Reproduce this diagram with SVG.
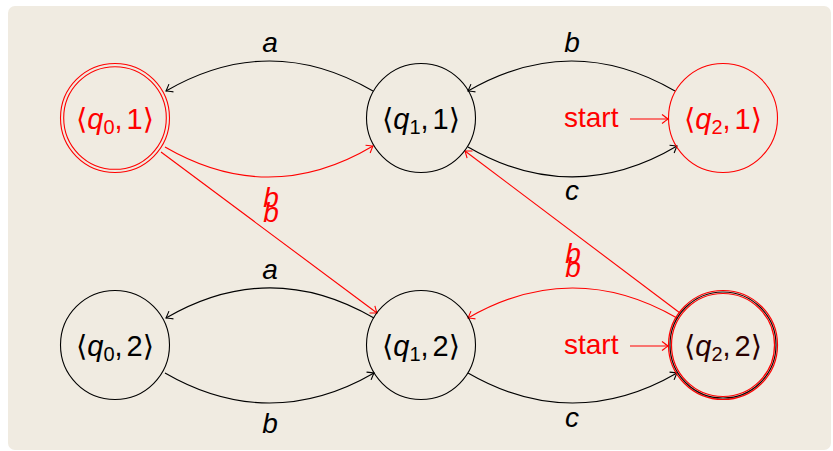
<svg xmlns="http://www.w3.org/2000/svg" width="833" height="451" viewBox="0 0 833 451">
<style>
.bg{fill:#f0ebe1}
.n{fill:none;stroke:#000;stroke-width:1.1}
.nr{fill:none;stroke:#ff0000;stroke-width:1.1}
.t{font-family:"Liberation Sans","DejaVu Sans",sans-serif;font-size:29px;text-anchor:middle}
.q{font-style:italic}
.sub{font-size:20px}
.lbl{font-family:"Liberation Sans","DejaVu Sans",sans-serif;font-size:28px;font-style:italic;text-anchor:middle}
.st{font-family:"Liberation Sans","DejaVu Sans",sans-serif;font-size:28px}
.e{fill:none;stroke:#000;stroke-width:1.1;marker-end:url(#ab)}
.er{fill:none;stroke:#ff0000;stroke-width:1.1;marker-end:url(#ar)}
.red{fill:#ff0000}
.blk{fill:#000}
</style>
<defs>
<marker id="ab" viewBox="-8 -6 10 12" markerWidth="10" markerHeight="12" refX="0" refY="0" orient="auto" markerUnits="userSpaceOnUse">
<path d="M-6,-4.5 Q-1.5,-1 0,0 Q-1.5,1 -6,4.5" fill="none" stroke="#000" stroke-width="1.1"/>
</marker>
<marker id="ar" viewBox="-8 -6 10 12" markerWidth="10" markerHeight="12" refX="0" refY="0" orient="auto" markerUnits="userSpaceOnUse">
<path d="M-6,-4.5 Q-1.5,-1 0,0 Q-1.5,1 -6,4.5" fill="none" stroke="#ff0000" stroke-width="1.1"/>
</marker>
</defs>
<rect class="bg" x="8" y="6" width="823" height="444" rx="7"/>

<g id="edges">
<path class="e" d="M373,91 C304,51 235,51 166,91"/>
<path class="er" d="M165,147 C234,187 304,187 373,146"/>
<path class="e" d="M675,91 C606,51 537,51 468,91"/>
<path class="e" d="M468,147 C537,187 608,187 677,146"/>
<path class="er" d="M630,119 L668,119"/>
<path class="er" d="M161,152 L377,313"/>
<path class="er" d="M680,313 L465,151"/>
<path class="er" d="M677,318 C608,278 537,278 468,318"/>
<path class="e" d="M374,318 C305,278 235,278 166,318"/>
<path class="e" d="M165,373 C234,413 305,413 374,373"/>
<path class="e" d="M468,373 C537,413 608,413 677,373"/>
<path class="er" d="M630,346 L668,346"/>
<text class="lbl blk" x="270" y="52">a</text>
<text class="lbl blk" x="572" y="52">b</text>
<text class="lbl blk" x="572" y="200">c</text>
<text class="lbl red" x="271" y="207">b</text>
<text class="lbl red" x="271" y="222">b</text>
<text class="lbl red" x="573" y="263">b</text>
<text class="lbl red" x="573" y="277">b</text>
<text class="lbl blk" x="270" y="279">a</text>
<text class="lbl blk" x="270" y="433">b</text>
<text class="lbl blk" x="572" y="427">c</text>
<text class="st red" x="564" y="127">start</text>
<text class="st red" x="564" y="354">start</text>
</g>

<g id="q01">
<circle class="nr" cx="115" cy="118" r="54.5"/>
<circle class="nr" cx="115" cy="118" r="51.3"/>
<text class="t red" x="115" y="129">⟨<tspan class="q">q</tspan><tspan class="sub" dy="5">0</tspan><tspan dy="-5">,</tspan><tspan dx="4">1⟩</tspan></text>
</g>
<g id="q11">
<circle class="n" cx="421" cy="118" r="54.5"/>
<text class="t blk" x="421" y="129">⟨<tspan class="q">q</tspan><tspan class="sub" dy="5">1</tspan><tspan dy="-5">,</tspan><tspan dx="4">1⟩</tspan></text>
</g>
<g id="q21">
<circle class="nr" cx="723" cy="118" r="54.5"/>
<text class="t red" x="723" y="129">⟨<tspan class="q">q</tspan><tspan class="sub" dy="5">2</tspan><tspan dy="-5">,</tspan><tspan dx="4">1⟩</tspan></text>
</g>
<g id="q02">
<circle class="n" cx="115" cy="345" r="54.5"/>
<text class="t blk" x="115" y="356">⟨<tspan class="q">q</tspan><tspan class="sub" dy="5">0</tspan><tspan dy="-5">,</tspan><tspan dx="4">2⟩</tspan></text>
</g>
<g id="q12">
<circle class="n" cx="421" cy="345" r="54.5"/>
<text class="t blk" x="421" y="356">⟨<tspan class="q">q</tspan><tspan class="sub" dy="5">1</tspan><tspan dy="-5">,</tspan><tspan dx="4">2⟩</tspan></text>
</g>
<g id="q22">
<circle cx="723" cy="345" r="54.5" fill="none" stroke="#ff0000" stroke-width="1.2"/>
<circle cx="723" cy="345" r="53" fill="none" stroke="#1a0000" stroke-width="1.2"/>
<circle cx="723" cy="345" r="51.5" fill="none" stroke="#ff0000" stroke-width="1.2"/>
<text class="t" fill="#2a0000" x="723" y="356">⟨<tspan class="q">q</tspan><tspan class="sub" dy="5">2</tspan><tspan dy="-5">,</tspan><tspan dx="4">2⟩</tspan></text>
</g>
</svg>
